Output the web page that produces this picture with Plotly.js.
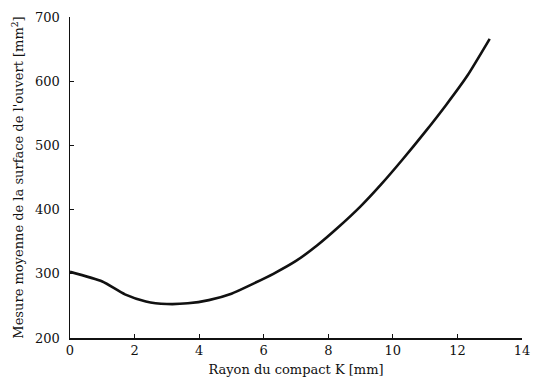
<!DOCTYPE html>
<html>
<head>
<meta charset="utf-8">
<script src="https://cdn.plot.ly/plotly-3.0.1.min.js"></script>
<style>html,body{margin:0;padding:0;background:#fff;}#chart{width:533px;height:383px;}</style>
</head>
<body>
<div id="chart"></div>
<script>
const rayon = [0, 1, 1.7, 2.35, 3, 3.65, 4.3, 5, 5.65, 6.3, 7, 7.65, 8.3, 9, 9.65, 10.3, 11, 11.65, 12.3, 13];
const surface = [303, 288, 268, 257, 253, 254, 259, 269, 284, 300, 320, 344, 372, 405, 440, 478, 521, 563, 608, 666];
const xTicks = [0, 2, 4, 6, 8, 10, 12, 14];
const yTicks = [200, 300, 400, 500, 600, 700];
const xTitle = 'Rayon du compact K [mm]';
const yTitle = "Mesure moyenne de la surface de l'ouvert [mm<sup>2</sup>]";

const font = {family: '"DejaVu Serif", "Liberation Serif", serif', size: 13, color: '#111'};

Plotly.newPlot('chart', [{
  x: rayon, y: surface, type: 'scatter', mode: 'lines',
  line: {color: '#111', width: 2.6, shape: 'spline', smoothing: 0.6},
  hoverinfo: 'none'
}], {
  width: 533, height: 383,
  margin: {l: 70, r: 11, t: 17, b: 45},
  paper_bgcolor: '#fff', plot_bgcolor: '#fff',
  font: font,
  showlegend: false,
  xaxis: {
    range: [0, 14], tickvals: xTicks, ticktext: xTicks.map(String),
    showgrid: false, zeroline: false, showline: true, linecolor: '#111', linewidth: 1.5,
    ticks: 'inside', ticklen: 4, tickcolor: '#111', tickwidth: 1,
    tickfont: font,
    title: {text: xTitle, font: font, standoff: 8}
  },
  yaxis: {
    range: [200, 700], tickvals: yTicks, ticktext: yTicks.map(String),
    showgrid: false, zeroline: false, showline: true, linecolor: '#111', linewidth: 1.5,
    ticks: 'inside', ticklen: 4, tickcolor: '#111', tickwidth: 1,
    tickfont: font, ticklabelstandoff: 6,
    title: {text: yTitle, font: font, standoff: 8}
  }
}, {staticPlot: true});
</script>
</body>
</html>
